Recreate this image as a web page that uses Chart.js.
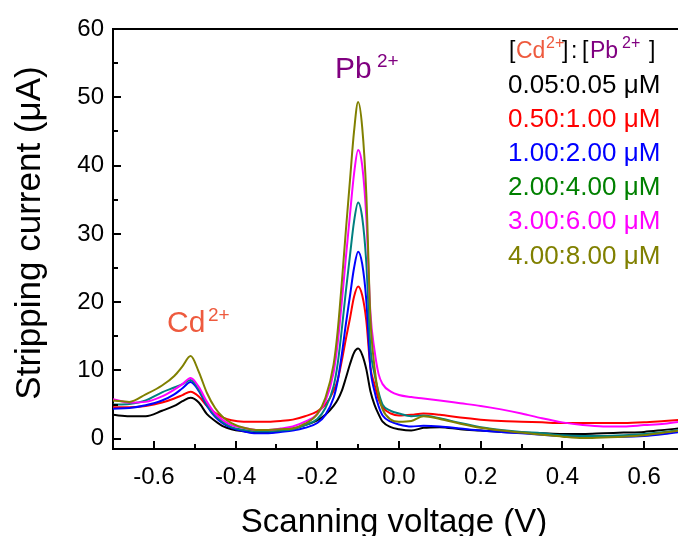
<!DOCTYPE html>
<html><head><meta charset="utf-8">
<script src="https://cdn.jsdelivr.net/npm/chart.js@4.4.0/dist/chart.umd.min.js"></script>
<style>html,body{margin:0;padding:0;background:#fff;overflow:hidden}#wrap{width:678px;height:536px;position:relative}</style>
</head><body><div id="wrap"><canvas id="c" width="678" height="536"></canvas></div>
<script>
// ---- data ----
const voltage = [-0.7,-0.66,-0.62,-0.58,-0.55,-0.53,-0.51,-0.49,-0.47,-0.45,-0.43,-0.41,-0.38,-0.35,-0.32,-0.29,
  -0.26,-0.23,-0.2,-0.18,-0.16,-0.15,-0.14,-0.13,-0.12,-0.11,-0.1,-0.09,-0.08,-0.07,-0.06,-0.05,-0.04,-0.02,0.0,
  0.03,0.06,0.1,0.15,0.2,0.25,0.3,0.35,0.4,0.45,0.5,0.55,0.6,0.65,0.7];
const current_005_005 = [3.5,3.3,3.3,4.1,4.8,5.5,6.0,5.3,3.6,2.6,1.8,1.4,1.1,0.9,0.9,1.1,
  1.5,2.0,2.7,3.5,4.8,5.7,7.0,8.9,10.9,12.6,13.2,12.3,10.2,7.0,5.0,3.6,2.5,1.7,1.4,
  1.2,1.6,1.7,1.4,1.2,1.0,0.9,0.8,0.7,0.7,0.8,0.9,1.0,1.3,1.6];
const current_050_100 = [4.6,4.6,4.8,5.3,5.9,6.4,6.9,6.2,4.8,3.8,3.1,2.7,2.5,2.5,2.5,2.6,
  2.8,3.3,4.0,5.0,7.0,8.6,11.4,14.6,17.6,20.8,22.3,21.0,17.3,10.5,8.0,5.8,4.6,3.7,3.4,
  3.5,3.7,3.5,3.1,2.8,2.6,2.5,2.4,2.3,2.3,2.3,2.3,2.4,2.6,2.8];
const current_100_200 = [4.4,4.5,4.9,5.6,6.5,7.4,8.3,7.0,4.8,3.2,2.2,1.6,1.1,0.8,0.8,1.0,
  1.2,1.6,2.3,3.5,6.0,8.5,12.3,16.8,20.9,25.0,27.4,25.6,20.3,10.4,7.0,4.8,3.4,2.5,2.1,
  1.8,1.9,1.8,1.5,1.2,1.0,0.8,0.6,0.4,0.3,0.3,0.3,0.4,0.7,1.1];
const current_200_400 = [5.0,5.1,5.6,6.8,7.5,8.0,8.6,7.2,5.0,3.4,2.4,1.7,1.3,1.1,1.1,1.2,
  1.4,2.0,2.9,4.5,7.7,11.0,16.0,21.6,26.8,31.8,34.6,32.4,25.8,13.5,9.5,6.8,5.0,4.1,3.7,
  3.3,3.4,3.0,2.3,1.7,1.3,1.0,0.8,0.5,0.4,0.4,0.5,0.7,1.0,1.4];
const current_300_600 = [5.8,5.3,5.4,6.2,7.2,8.0,8.9,7.6,5.4,3.7,2.7,2.0,1.6,1.3,1.3,1.5,
  1.8,2.5,3.6,5.5,9.7,14.0,20.0,26.5,32.8,38.8,42.3,40.0,32.5,18.5,13.0,9.5,8.0,6.9,6.4,
  6.1,5.9,5.6,5.2,4.8,4.3,3.7,3.0,2.4,2.0,1.8,1.8,2.0,2.2,2.6];
const current_400_800 = [5.6,5.4,6.5,7.8,9.2,10.6,12.1,9.8,6.7,4.5,3.1,2.3,1.6,1.3,1.3,1.4,
  1.5,2.2,3.6,6.0,10.9,15.8,22.8,30.5,37.8,45.0,49.3,45.6,35.9,17.8,10.5,6.5,4.3,2.8,2.5,
  2.6,3.3,2.9,2.2,1.6,1.2,0.9,0.6,0.3,0.1,0.2,0.3,0.5,0.9,1.3];
const seriesNames = ['0.05:0.05 μM','0.50:1.00 μM','1.00:2.00 μM','2.00:4.00 μM','3.00:6.00 μM','4.00:8.00 μM'];
const seriesValues = [current_005_005,current_050_100,current_100_200,current_200_400,current_300_600,current_400_800];
const lineColors = ['#000000','#FF0000','#0000FF','#008080','#FF00FF','#808000'];
const legendColors = ['#000000','#FF0000','#0000FF','#008000','#FF00FF','#808000'];
const xTickValues = [-0.6,-0.4,-0.2,0,0.2,0.4,0.6];
const xTickLabels = ['-0.6','-0.4','-0.2','0.0','0.2','0.4','0.6'];
const xMinorTicks = [-0.5,-0.3,-0.1,0.1,0.3,0.5];
const yTickValues = [0,10,20,30,40,50,60];
const yTickLabels = ['0','10','20','30','40','50','60'];
const yMinorTicks = [5,15,25,35,45,55];

const FONT = "'Liberation Sans', Arial, sans-serif";
const CD_COLOR = '#EE5A3E';
const PB_COLOR = '#800080';

function drawParts(ctx, y, parts) {
  for (const p of parts) {
    ctx.font = p.size + 'px ' + FONT;
    ctx.fillStyle = p.color;
    ctx.fillText(p.t, p.x, y + (p.dy || 0));
  }
}

const decorPlugin = {
  id: 'decor',
  afterDraw(chart) {
    const ctx = chart.ctx;
    const a = chart.chartArea;
    const xs = chart.scales.x, ys = chart.scales.y;
    ctx.save();
    ctx.strokeStyle = '#000';
    ctx.lineWidth = 2;
    ctx.beginPath();
    ctx.moveTo(a.left - 1, a.top); ctx.lineTo(a.right, a.top);
    for (const v of xTickValues) { const px = Math.round(xs.getPixelForValue(v)); ctx.moveTo(px, a.bottom); ctx.lineTo(px, a.bottom - 8); }
    for (const v of xMinorTicks) { const px = Math.round(xs.getPixelForValue(v)); ctx.moveTo(px, a.bottom); ctx.lineTo(px, a.bottom - 5); }
    for (const v of yTickValues) { const py = Math.round(ys.getPixelForValue(v)); ctx.moveTo(a.left, py); ctx.lineTo(a.left + 8, py); }
    for (const v of yMinorTicks) { const py = Math.round(ys.getPixelForValue(v)); ctx.moveTo(a.left, py); ctx.lineTo(a.left + 5, py); }
    ctx.stroke();

    ctx.textBaseline = 'alphabetic';
    ctx.fillStyle = '#000';
    ctx.textAlign = 'center';
    ctx.font = '33px ' + FONT;
    ctx.fillText('Scanning voltage (V)', 394, 532);
    ctx.save();
    ctx.translate(40, 233);
    ctx.rotate(-Math.PI / 2);
    ctx.font = '35px ' + FONT;
    ctx.fillText('Stripping current (μA)', 0, 0);
    ctx.restore();
    ctx.textAlign = 'left';

    // peak annotations
    drawParts(ctx, 332, [{t:'Cd', x:167, size:30, color:CD_COLOR}, {t:'2+', x:208, size:19, color:CD_COLOR, dy:-11}]);
    drawParts(ctx, 78, [{t:'Pb', x:335, size:30, color:PB_COLOR}, {t:'2+', x:377, size:19, color:PB_COLOR, dy:-11}]);

    // legend
    const lx = 508, hy = 58, ly0 = 92.5, step = 34.2;
    drawParts(ctx, hy, [
      {t:'[', x:509, size:23, color:'#000'},
      {t:'Cd', x:516, size:23, color:CD_COLOR},
      {t:'2+', x:546, size:16, color:CD_COLOR, dy:-10},
      {t:']', x:562, size:23, color:'#000'},
      {t:':', x:571, size:23, color:'#000'},
      {t:'[', x:582, size:23, color:'#000'},
      {t:'Pb', x:590, size:23, color:PB_COLOR},
      {t:'2+', x:622, size:16, color:PB_COLOR, dy:-10},
      {t:']', x:649, size:23, color:'#000'}
    ]);
    ctx.font = '26px ' + FONT;
    seriesNames.forEach((n, i) => {
      ctx.fillStyle = legendColors[i];
      ctx.fillText(n, lx, ly0 + step * i);
    });
    ctx.restore();
  }
};

const datasets = seriesValues.map((vals, i) => ({
  label: seriesNames[i],
  data: voltage.map((v, j) => ({x: v, y: vals[j]})),
  borderColor: lineColors[i],
  backgroundColor: lineColors[i],
  borderWidth: 2,
  pointRadius: 0,
  fill: false,
  cubicInterpolationMode: 'monotone',
  order: seriesValues.length - i
}));

new Chart(document.getElementById('c'), {
  type: 'line',
  data: { datasets },
  options: {
    responsive: false,
    animation: false,
    devicePixelRatio: 1,
    layout: { padding: { top: 29, right: 0, left: 0, bottom: 0 } },
    plugins: { legend: { display: false }, tooltip: { enabled: false } },
    scales: {
      x: {
        type: 'linear', min: -0.7, max: 0.683,
        grid: { display: false, drawTicks: false },
        border: { display: true, color: '#000', width: 2 },
        ticks: { color: '#000', font: { family: FONT, size: 24 }, padding: 14, maxRotation: 0, autoSkip: false,
          callback: (v, i) => xTickLabels[i] },
        afterBuildTicks: s => { s.ticks = xTickValues.map(v => ({ value: v })); },
        afterFit: s => { s.height = 87; }
      },
      y: {
        type: 'linear', min: -1.5, max: 60,
        grid: { display: false, drawTicks: false },
        border: { display: true, color: '#000', width: 2 },
        ticks: { color: '#000', font: { family: FONT, size: 24 }, padding: 9,
          callback: (v, i) => yTickLabels[i] },
        afterBuildTicks: s => { s.ticks = yTickValues.map(v => ({ value: v })); },
        afterFit: s => { s.width = 113; }
      }
    }
  },
  plugins: [decorPlugin]
});
</script>
</body></html>
